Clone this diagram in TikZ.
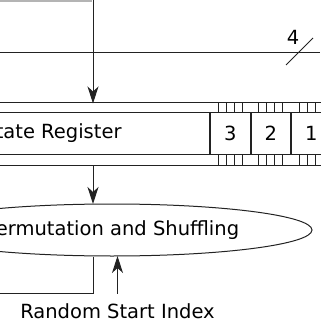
\documentclass[tikz,border=0pt]{standalone}
\usepackage{fontspec}
\setmainfont{DejaVu Sans}
\usetikzlibrary{arrows.meta,positioning,shapes.geometric}
\definecolor{ink}{HTML}{222222}
\definecolor{edge}{HTML}{B4B4B4}

\begin{document}
\begin{tikzpicture}[x=1pt, y=-1pt, >={Stealth[length=17pt,width=11pt,inset=5pt]}, every node/.style={font=\fontsize{19.5}{23}\selectfont, text=black}, regbox/.style={draw=ink,line width=1pt,minimum height=41,inner sep=0pt}, cell/.style={regbox,minimum width=39.5}, line/.style={draw=ink,line width=1pt}, arr/.style={->,line,shorten >=-0.5pt}]
\useasboundingbox (0,0) rectangle (320,320);
\node[regbox,minimum width=314,anchor=east] (reg) at (210,133.5) {State Register};
\node[cell,anchor=west] (c3) at (reg.east) {3};
\node[cell,right=0pt of c3] (c2) {2};
\node[cell,right=0pt of c2] (c1) {1};
\node[draw=ink,line width=1pt,ellipse,minimum width=400,minimum height=52,inner sep=0pt] (perm) at (112,230) {Permutation and Shuffling};
\node[anchor=base,inner sep=1pt] (rsi) at (117.5,318) {Random Start Index};
\node[inner sep=0pt] (bits) at (293,37.5) {4};
% bus lines and ticks
\draw[line] (0,103) -- (330,103);
\draw[line] (0,165) -- (330,165);
\foreach \c in {c3,c2,c1}
  \foreach \k in {1,...,4} {
    \draw[line] ([xshift=8*\k]\c.north west) -- ++(0,-10);
    \draw[line] ([xshift=8*\k]\c.south west) -- ++(0,11);
  }
\draw[line] (0,53) -- (320,53);
\draw[line] (286,65) -- (313,38);
\draw[edge,line width=2pt] (0,1) -- (92,1);
% connectors
\coordinate (topin) at (93,0);
\coordinate (bustop) at (93,103);
\coordinate (busbot) at (93,165);
\coordinate (fbend) at (0,293);
\draw[arr] (topin) -- (bustop);
\draw[arr] (busbot) -- (busbot |- perm.north);
\draw[line] (busbot |- perm.south) |- (fbend);
\draw[arr] ([yshift=8]rsi.north) -- (rsi.north |- perm.south);
\end{tikzpicture}
\end{document}
